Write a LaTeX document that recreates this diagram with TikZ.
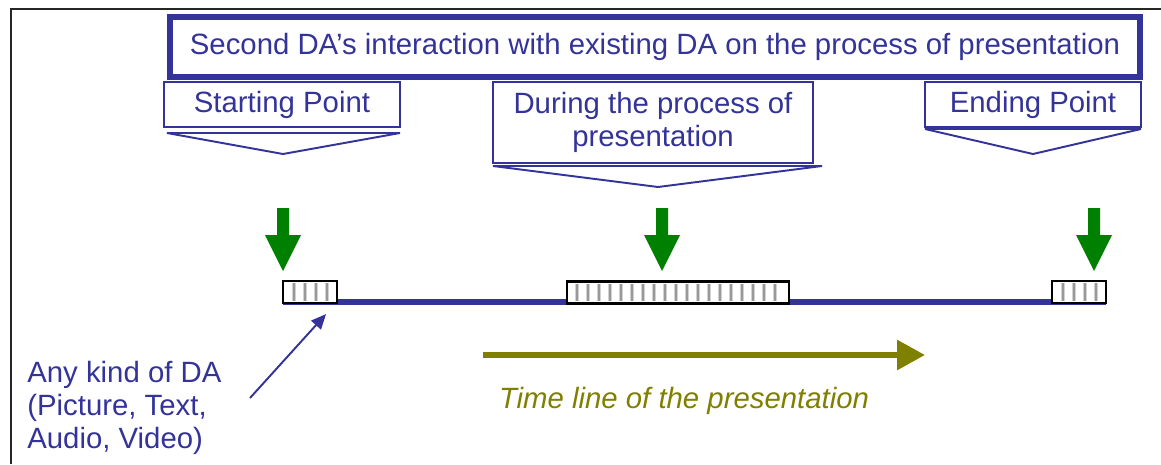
\documentclass[tikz,border=0pt]{standalone}
\usepackage{fontspec}
\setmainfont{Liberation Sans}
\usetikzlibrary{arrows.meta}
\definecolor{dablue}{RGB}{51,51,153}
\definecolor{dagreen}{RGB}{0,128,0}
\definecolor{daolive}{RGB}{128,128,0}

\begin{document}
\begin{tikzpicture}[x=0.02cm, y=-0.02cm,
  txt/.style={text=dablue, font=\fontsize{16.7}{18.8}\selectfont},
  callout/.style={draw=dablue, line width=1.1pt, fill=white, txt, inner sep=0pt},
  clipbox/.style={draw=black, line width=1.2pt, minimum height=0.44cm, inner sep=0pt},
  stripe/.style={gray!35, line width=2.6pt},
  stripecore/.style={gray!80, line width=1pt},
  pointer/.style={draw=dablue, line width=1.1pt, fill=white, line join=bevel}]
\useasboundingbox (0,0) rectangle (1161,464);

% Frame
\draw[black!85, line width=1.1pt] (11,464) -- (11,9) -- (1161,9);

% Title
\node[callout, line width=3.8pt, minimum width=19.4cm, minimum height=1.2cm] (title) at (655,47)
  {Second DA’s interaction with existing DA on the process of presentation};

% Stage pointers
\draw[pointer] (167,133) -- (400,133) -- (283,154) -- cycle;
\draw[pointer] (493,166) -- (822,166) -- (658,187) -- cycle;
\draw[pointer] (925,129) -- (1141,129) -- (1033,154) -- cycle;

% Stage boxes
\node[callout, minimum width=4.72cm, minimum height=0.9cm] (start) at (282,104.5) {Starting Point};
\node[callout, align=center, minimum width=6.4cm, minimum height=1.62cm] (during) at (653,122.5)
  {During the process of\\presentation};
\node[callout, minimum width=4.32cm, minimum height=0.9cm] (ending) at (1033,104.5) {Ending Point};

% Timeline
\draw[dablue, line width=3.4pt] (283,302) -- (1106,302);

% DA clips
\node[clipbox, fill=white, minimum width=1.08cm] (clipA) at (310,292) {};
\node[clipbox, fill=white, minimum width=4.44cm] (clipB) at (678,292.5) {};
\node[clipbox, fill=white, minimum width=1.08cm] (clipC) at (1079,292) {};
\foreach \x in {294,305,316,327} {
  \draw[stripe] (\x,283) -- (\x,301);
  \draw[stripecore] (\x,283) -- (\x,301);
}
\foreach \x in {577,588,...,783} {
  \draw[stripe] (\x,284) -- (\x,301);
  \draw[stripecore] (\x,284) -- (\x,301);
}
\foreach \x in {1063,1074,1085,1096} {
  \draw[stripe] (\x,283) -- (\x,301);
  \draw[stripecore] (\x,283) -- (\x,301);
}
\node[clipbox, minimum width=1.08cm] at (clipA) {};
\node[clipbox, minimum width=4.44cm] at (clipB) {};
\node[clipbox, minimum width=1.08cm] at (clipC) {};

% Insertion arrows
\foreach \c in {283,662,1094}
  \fill[dagreen] (\c-6,208) -- (\c+6,208) -- (\c+6,235) -- (\c+18,235) -- (\c,271)
    -- (\c-18,235) -- (\c-6,235) -- cycle;

% Kind of DA
\node[txt, align=left, anchor=north west, inner sep=0pt] (anyda) at (27,361)
  {Any kind of DA\\(Picture, Text,\\Audio, Video)};
\coordinate (anyfrom) at (250,398);
\draw[dablue, line width=1.1pt, -{Triangle[length=0.3cm,width=0.26cm]}] (anyfrom) -- ([xshift=-0.24cm,yshift=-0.2cm]clipA.south east);

% Time line
\coordinate (tstart) at (483,355);
\coordinate (tend) at (925,355);
\draw[daolive, line width=3.4pt, -{Triangle[length=0.56cm,width=0.58cm]}] (tstart) -- (tend);
\node[text=daolive, font=\fontsize{16.7}{18.8}\selectfont\itshape] (tlabel) at (684,401)
  {Time line of the presentation};

\end{tikzpicture}
\end{document}
